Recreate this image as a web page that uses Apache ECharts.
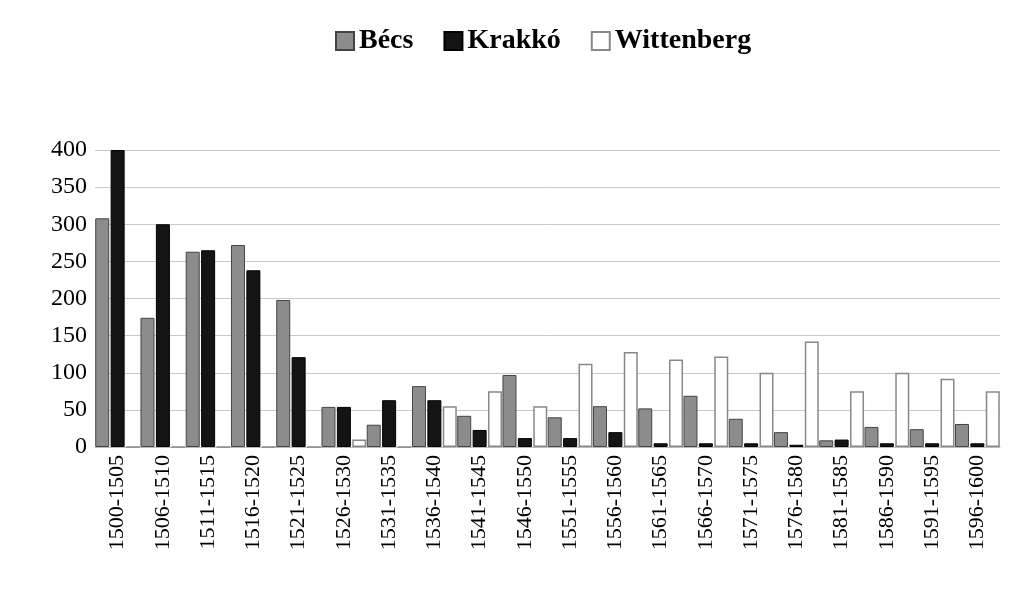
<!DOCTYPE html>
<html><head><meta charset="utf-8">
<script src="https://cdn.jsdelivr.net/npm/echarts@6/dist/echarts.min.js"></script>
<style>html,body{margin:0;background:#fff}#c{width:1024px;height:609px}</style>
</head><body><div id="c"></div>
<script>
const categories=['1500-1505','1506-1510','1511-1515','1516-1520','1521-1525','1526-1530','1531-1535','1536-1540','1541-1545','1546-1550','1551-1555','1556-1560','1561-1565','1566-1570','1571-1575','1576-1580','1581-1585','1586-1590','1591-1595','1596-1600'];
const becs=[308,174,263,272,198,54,30,82,42,97,40,55,52,69,38,20,9,27,24,31];
const krakko=[400,300,265,238,121,54,63,63,23,12,12,20,5,5,5,3,10,5,5,5];
const wittenberg=[0,0,0,0,0,10,0,55,75,55,112,128,118,122,100,142,75,100,92,75];
const yTicks=[0,50,100,150,200,250,300,350,400];
const font='"Liberation Serif","DejaVu Serif",serif';
const chart=echarts.init(document.getElementById('c'));
chart.setOption({
  textStyle:{fontFamily:font},
  legend:{top:22,left:330,icon:'rect',itemWidth:18,itemHeight:18,itemGap:30,
    textStyle:{fontFamily:font,fontSize:28,fontWeight:'bold',color:'#000'}},
  grid:{left:95,right:24,top:150,bottom:162},
  xAxis:{type:'category',data:categories,
    axisLine:{lineStyle:{color:'#bbb'}},axisTick:{show:false},
    axisLabel:{rotate:90,interval:0,fontFamily:font,fontSize:22,color:'#000'}},
  yAxis:{type:'value',min:0,max:400,interval:50,
    axisLine:{show:false},axisTick:{show:false},
    splitLine:{lineStyle:{color:'#c8c8c8'}},
    axisLabel:{fontFamily:font,fontSize:24,color:'#000',formatter:v=>yTicks.includes(v)?String(v):''}},
  series:[
    {name:'Bécs',type:'bar',data:becs,barWidth:14,barGap:'10%',itemStyle:{color:'#8c8c8c',borderColor:'#444',borderWidth:1}},
    {name:'Krakkó',type:'bar',data:krakko,barWidth:14,itemStyle:{color:'#141414',borderColor:'#000',borderWidth:1}},
    {name:'Wittenberg',type:'bar',data:wittenberg,barWidth:14,itemStyle:{color:'#fff',borderColor:'#888',borderWidth:1.5}}
  ]
});
</script></body></html>
